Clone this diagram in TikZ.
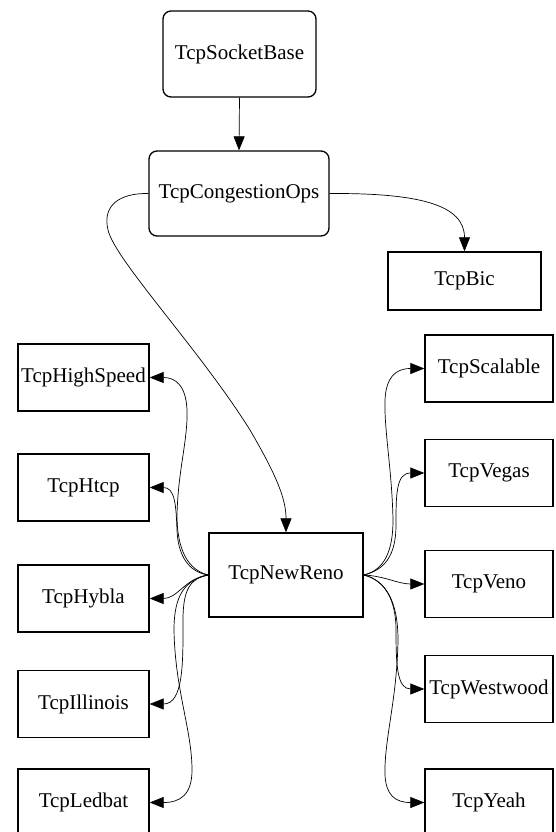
\documentclass[tikz,border=0pt]{standalone}
\usepackage{fontspec}
\setmainfont{Liberation Serif}
\usetikzlibrary{arrows.meta}
\begin{document}
\begin{tikzpicture}[x=1pt,y=-1pt,
  box/.style={draw, line width=1.3pt, inner sep=0pt, font=\fontsize{21}{25}\selectfont},
  rbox/.style={box, rounded corners=8pt},
  edge/.style={line width=0.7pt, -{Triangle[length=14pt,width=11pt]}}]
\path[use as bounding box, clip] (0,0) rectangle (555,832);
\fill[white] (0,0) rectangle (555,832);
% top
\node[rbox, minimum width=153pt, minimum height=86pt] (sb) at (239.5,54) {TcpSocketBase};
\node[rbox, minimum width=180pt, minimum height=85pt] (cg) at (239,193.5) {TcpCongestionOps};
\node[box, minimum width=153pt, minimum height=58pt] (bic) at (464.5,281) {TcpBic};
\node[box, minimum width=154pt, minimum height=84pt] (nr) at (286,575) {TcpNewReno};
% left
\node[box, minimum width=131pt, minimum height=67pt] (hs) at (83.5,377.5) {TcpHighSpeed};
\node[box, minimum width=131pt, minimum height=67pt] (ht) at (83.5,487.5) {TcpHtcp};
\node[box, minimum width=131pt, minimum height=67pt] (hy) at (83.5,598.5) {TcpHybla};
\node[box, minimum width=131pt, minimum height=67pt] (il) at (83.5,704) {TcpIllinois};
\node[box, minimum width=131pt, minimum height=67pt] (lb) at (83.5,802.5) {TcpLedbat};
% right
\node[box, minimum width=128pt, minimum height=67pt] (sc) at (489,368.5) {TcpScalable};
\node[box, minimum width=128pt, minimum height=67pt] (vg) at (489,473) {TcpVegas};
\node[box, minimum width=128pt, minimum height=67pt] (vn) at (489,584) {TcpVeno};
\node[box, minimum width=128pt, minimum height=67pt] (ww) at (489,689) {TcpWestwood};
\node[box, minimum width=128pt, minimum height=67pt] (yh) at (489,802.5) {TcpYeah};
% edges top
\draw[edge] (sb.south) -- (cg.north);
\draw[edge] (cg.east) .. controls (420,193) and (464.5,205) .. (bic.north);
\draw[edge] (cg.west) .. controls (120,193) and (102,205) .. (108,230)
  .. controls (115,260) and (200,350) .. (250,430)
  .. controls (278,478) and (286,500) .. (nr.north);
% edges left
\draw[edge] (nr.west) .. controls (188,570) and (177,550) .. (177,515)
  .. controls (178,470) and (188,440) .. (187,410)
  .. controls (186,385) and (175,377.5) .. (hs.east);
\draw[edge] (nr.west) .. controls (188,572) and (178,555) .. (177,530)
  .. controls (176,505) and (175,487.5) .. (ht.east);
\draw[edge] (nr.west) .. controls (185,578) and (178,598.5) .. (hy.east);
\draw[edge] (nr.west) .. controls (190,578) and (183,590) .. (183,620)
  .. controls (183,660) and (184,704) .. (il.east);
\draw[edge] (nr.west) .. controls (185,580) and (174,595) .. (174,630)
  .. controls (175,690) and (192,730) .. (192,770)
  .. controls (192,795) and (180,802.5) .. (lb.east);
% edges right
\draw[edge] (nr.east) .. controls (385,570) and (393,550) .. (393,520)
  .. controls (392,470) and (384,430) .. (385,400)
  .. controls (386,378) and (395,368.5) .. (sc.west);
\draw[edge] (nr.east) .. controls (385,570) and (396,555) .. (396,525)
  .. controls (396,495) and (396,473) .. (vg.west);
\draw[edge] (nr.east) .. controls (385,576) and (398,584) .. (vn.west);
\draw[edge] (nr.east) .. controls (385,580) and (396,600) .. (396,630)
  .. controls (396,665) and (397,689) .. (ww.west);
\draw[edge] (nr.east) .. controls (385,580) and (398,600) .. (398,640)
  .. controls (397,700) and (384,740) .. (385,775)
  .. controls (386,795) and (395,802.5) .. (yh.west);
\end{tikzpicture}
\end{document}
